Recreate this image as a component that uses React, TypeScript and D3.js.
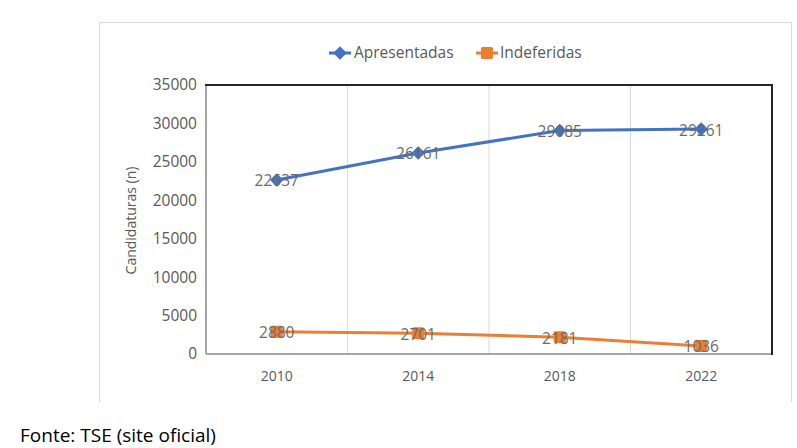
import React from "react";
import * as d3 from "d3";

const years = ["2010", "2014", "2018", "2022"];
const apresentadas = [22637, 26161, 29085, 29261];
const indeferidas = [2880, 2701, 2181, 1036];
const yTicks = [0, 5000, 10000, 15000, 20000, 25000, 30000, 35000];

const W = 797;
const H = 448;
const plot = { left: 206, right: 772, top: 85, bottom: 354 };
const FONT = "'Open Sans', 'Noto Sans', sans-serif";
const GREY = "#595959";
const LABEL = "#6b6b6b";
const BLUE = "#4472C4";
const ORANGE = "#ED7D31";

export default function App() {
  const x = d3.scaleBand<string>().domain(years).range([plot.left, plot.right]);
  const y = d3.scaleLinear().domain([0, 35000]).range([plot.bottom, plot.top]);
  const cx = (d: string) => (x(d) as number) + x.bandwidth() / 2;
  const line = d3
    .line<number>()
    .x((_, i) => cx(years[i]))
    .y((v) => y(v));
  const diamond = d3.symbol(d3.symbolSquare, 92)();
  const series = [
    { name: "Apresentadas", values: apresentadas, color: BLUE, kind: "diamond" },
    { name: "Indeferidas", values: indeferidas, color: ORANGE, kind: "square" },
  ];

  return (
    <svg
      width={W}
      height={H}
      style={{ position: "absolute", left: 0, top: 0 }}
      fontFamily={FONT}
    >
      <rect x={0} y={0} width={W} height={H} fill="#fff" />
      {/* outer chart frame */}
      <path d="M99.5,402 V22.5 H791.5 V402" fill="none" stroke="#d9d9d9" strokeWidth={1} />

      {/* vertical gridlines */}
      {years.slice(1).map((yr) => (
        <line
          key={yr}
          x1={x(yr)}
          x2={x(yr)}
          y1={plot.top}
          y2={plot.bottom}
          stroke="#d9d9d9"
          strokeWidth={1}
        />
      ))}

      {/* plot borders */}
      <line x1={plot.left} x2={plot.left} y1={plot.top} y2={plot.bottom} stroke="#a6a6a6" strokeWidth={2} />
      <line x1={plot.left} x2={plot.right} y1={plot.bottom} y2={plot.bottom} stroke="#a6a6a6" strokeWidth={2} />
      <line x1={plot.left - 1} x2={plot.right + 1} y1={plot.top} y2={plot.top} stroke="#262626" strokeWidth={2} />
      <line x1={plot.right} x2={plot.right} y1={plot.top} y2={plot.bottom + 1} stroke="#262626" strokeWidth={2} />

      {/* y tick labels */}
      {yTicks.map((t) => (
        <text
          key={t}
          x={197}
          y={y(t)}
          dy="0.35em"
          textAnchor="end"
          fontSize={15.5}
          fill={GREY}
        >
          {t}
        </text>
      ))}

      {/* x tick labels */}
      {years.map((yr) => (
        <text key={yr} x={cx(yr)} y={376} dy="0.35em" textAnchor="middle" fontSize={14} fill={GREY}>
          {yr}
        </text>
      ))}

      {/* y axis title */}
      <text
        transform={`translate(131,${(plot.top + plot.bottom) / 2 + 1}) rotate(-90)`}
        textAnchor="middle"
        fontSize={14}
        fill={GREY}
        dy="0.35em"
      >
        Candidaturas (n)
      </text>

      {/* series */}
      {series.map((s) => (
        <g key={s.name}>
          <path d={line(s.values) as string} fill="none" stroke={s.color} strokeWidth={3} strokeLinejoin="round" />
          {s.values.map((v, i) =>
            s.kind === "diamond" ? (
              <path
                key={i}
                d={diamond as string}
                transform={`translate(${cx(years[i])},${y(v)}) rotate(45)`}
                fill={s.color}
              />
            ) : (
              <rect
                key={i}
                x={cx(years[i]) - 6}
                y={y(v) - 6}
                width={12}
                height={12}
                rx={1.5}
                fill={s.color}
              />
            )
          )}
          {s.values.map((v, i) => (
            <text
              key={"l" + i}
              x={cx(years[i])}
              y={y(v) + 1}
              dy="0.35em"
              textAnchor="middle"
              fontSize={15.5}
              fill={LABEL}
            >
              {v}
            </text>
          ))}
        </g>
      ))}

      {/* legend */}
      <g>
        <line x1={329} x2={351} y1={53} y2={53} stroke={BLUE} strokeWidth={3} />
        <path d={diamond as string} transform="translate(340,53) rotate(45)" fill={BLUE} />
        <text x={354} y={53} dy="0.35em" fontSize={15.5} fill={GREY}>
          Apresentadas
        </text>
        <line x1={476} x2={498} y1={53} y2={53} stroke={ORANGE} strokeWidth={3} />
        <rect x={481} y={47} width={12} height={12} rx={1.5} fill={ORANGE} />
        <text x={500} y={53} dy="0.35em" fontSize={15.5} fill={GREY}>
          Indeferidas
        </text>
      </g>

      {/* source */}
      <text x={20} y={435} dy="0.35em" fontSize={19} fill="#000">
        Fonte: TSE (site oficial)
      </text>
    </svg>
  );
}
